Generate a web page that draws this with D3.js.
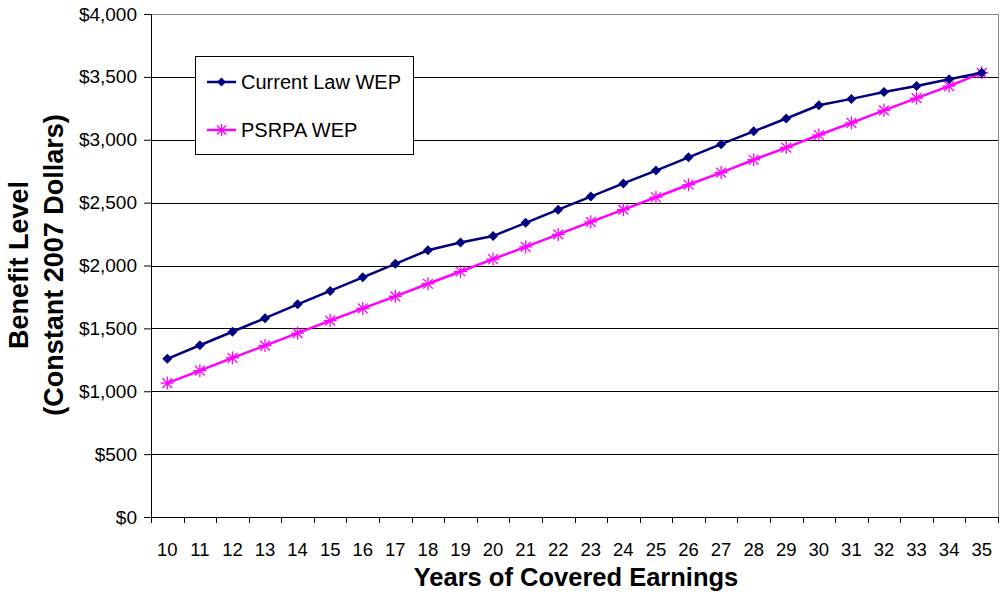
<!DOCTYPE html>
<html><head><meta charset="utf-8">
<script src="https://cdn.jsdelivr.net/npm/d3@7"></script>
<style>body{margin:0;background:#fff}svg{display:block;font-family:"Liberation Sans",Arial,sans-serif}</style>
</head><body><svg id="c" width="1000" height="596"></svg>
<script>
const years = [10,11,12,13,14,15,16,17,18,19,20,21,22,23,24,25,26,27,28,29,30,31,32,33,34,35];
const currentLaw = [1258,1366,1473,1581,1691,1798,1906,2013,2121,2183,2234,2339,2444,2548,2653,2755,2860,2965,3067,3169,3274,3325,3379,3427,3481,3532];
const psrpa = [1065,1164,1266,1363,1462,1562,1659,1755,1855,1952,2051,2148,2247,2347,2444,2543,2642,2739,2841,2938,3038,3134,3234,3331,3427,3532];
const yTicks = [0,500,1000,1500,2000,2500,3000,3500,4000];
const seriesNames = ["Current Law WEP","PSRPA WEP"];

const svg = d3.select("#c");
const L=151, R=998, T=14, B=517;
const x = d3.scaleBand().domain(years).range([L,R]);
const y = d3.scaleLinear().domain([0,4000]).range([B,T]);
const fmt = v => "$" + d3.format(",")(v);

// gridlines
svg.append("g").selectAll("line").data(yTicks.filter(d=>d>0)).join("line")
  .attr("x1",L).attr("x2",R).attr("y1",d=>Math.round(y(d))+0.5).attr("y2",d=>Math.round(y(d))+0.5)
  .attr("stroke",d=>d===4000?"#888":"#000").attr("stroke-width",1);
// right border
svg.append("line").attr("x1",R+0.5).attr("x2",R+0.5).attr("y1",T).attr("y2",B).attr("stroke","#888");

// y axis
const ya = svg.append("g").attr("transform",`translate(${L},0)`)
  .call(d3.axisLeft(y).tickValues(yTicks).tickFormat(fmt).tickSize(7).tickPadding(7));
ya.select(".domain").attr("stroke","#000");
ya.selectAll("text").attr("font-size",19).attr("fill","#000").attr("font-family","Liberation Sans, Arial");

// x axis
const xa = svg.append("g").attr("transform",`translate(0,${B})`)
  .call(d3.axisBottom(x).tickSize(0).tickPadding(0));
xa.select(".domain").attr("stroke","#000");
xa.selectAll("text").attr("font-size",18.5).attr("fill","#000").attr("dy",null).attr("y",39)
  .attr("font-family","Liberation Sans, Arial");
// boundary ticks
const bounds = years.map(d=>x(d)).concat([R]);
svg.append("g").selectAll("line").data(bounds).join("line")
  .attr("x1",d=>Math.round(d)+0.5).attr("x2",d=>Math.round(d)+0.5)
  .attr("y1",B).attr("y2",B+6).attr("stroke","#000");

const cx = d => x(d) + x.bandwidth()/2;
const line = d3.line().x((d,i)=>cx(years[i])).y(d=>y(d));

// PSRPA
svg.append("path").datum(psrpa).attr("d",line).attr("fill","none").attr("stroke","#FF00FF").attr("stroke-width",2.5);
const star = (g, px, py, s) => {
  [[-s,0,s,0],[0,-s,0,s],[-s*0.75,-s*0.75,s*0.75,s*0.75],[-s*0.75,s*0.75,s*0.75,-s*0.75]].forEach(a=>{
    g.append("line").attr("x1",px+a[0]).attr("y1",py+a[1]).attr("x2",px+a[2]).attr("y2",py+a[3])
     .attr("stroke","#FF00FF").attr("stroke-width",1.3);
  });
};
const sg = svg.append("g");
psrpa.forEach((v,i)=>star(sg, cx(years[i]), y(v), 6.5));

// Current law
svg.append("path").datum(currentLaw).attr("d",line).attr("fill","none").attr("stroke","#000080").attr("stroke-width",2.5);
svg.append("g").selectAll("path").data(currentLaw).join("path")
  .attr("transform",(d,i)=>`translate(${cx(years[i])},${y(d)}) rotate(45)`)
  .attr("d",d3.symbol().type(d3.symbolSquare).size(50)).attr("fill","#000080");

// legend
const lg = svg.append("g");
lg.append("rect").attr("x",195.5).attr("y",56.5).attr("width",218).attr("height",98).attr("fill","#fff").attr("stroke","#000");
lg.append("line").attr("x1",207).attr("x2",236).attr("y1",82).attr("y2",82).attr("stroke","#000080").attr("stroke-width",2.5);
lg.append("path").attr("transform","translate(221.5,82) rotate(45)").attr("d",d3.symbol().type(d3.symbolSquare).size(40)).attr("fill","#000080");
lg.append("line").attr("x1",207).attr("x2",236).attr("y1",130).attr("y2",130).attr("stroke","#FF00FF").attr("stroke-width",2.5);
star(lg,221.5,130,6);
lg.selectAll("text.l").data(seriesNames).join("text").attr("class","l")
  .attr("x",241).attr("y",(d,i)=>82+i*48+7).attr("font-size",20).attr("fill","#000").text(d=>d);

// axis titles
svg.append("text").attr("x",576).attr("y",586).attr("text-anchor","middle").attr("font-size",25.5).attr("font-weight","bold").text("Years of Covered Earnings");
const yt = svg.append("text").attr("transform","translate(0,265) rotate(-90)").attr("text-anchor","middle").attr("font-size",27).attr("font-weight","bold");
yt.append("tspan").attr("x",0).attr("y",28).text("Benefit Level");
yt.append("tspan").attr("x",0).attr("y",63).text("(Constant 2007 Dollars)");
</script></body></html>
